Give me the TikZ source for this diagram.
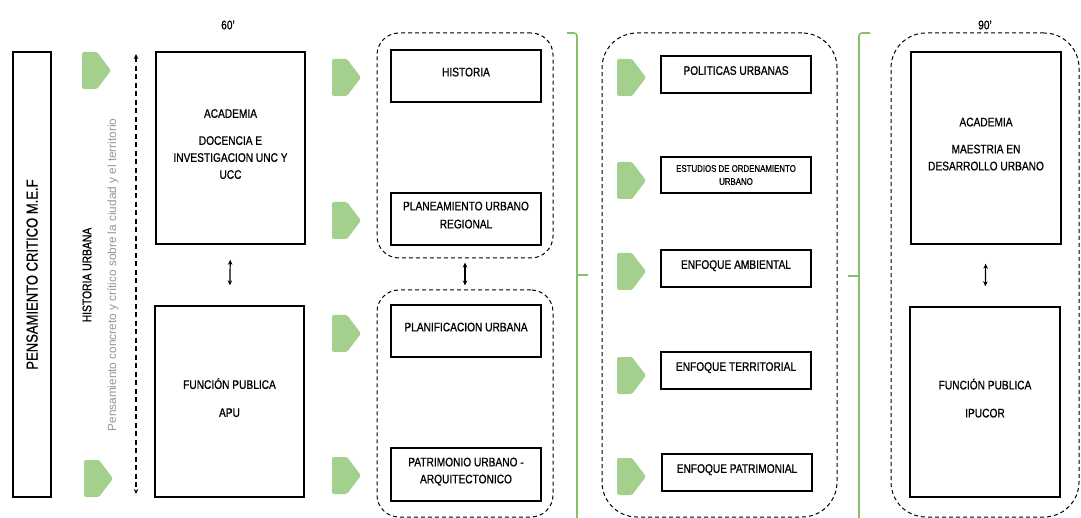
\documentclass[tikz,border=0pt]{standalone}
\usepackage{fontspec}
\setmainfont{Liberation Sans}[FakeStretch=0.82, FakeBold=0.8]
\newfontfamily\plainfont{Liberation Sans}
\usetikzlibrary{arrows.meta,calc}
\definecolor{tabgreen}{RGB}{163,208,140}
\definecolor{brgreen}{RGB}{135,192,105}
\definecolor{greytxt}{RGB}{150,150,150}
\newcommand\greentab[2]{\fill[tabgreen, rounded corners=1.5pt] (#1,#2) -- ++(15,0) -- ++(14,18.5) -- ++(-14,18.5) -- ++(-15,0) -- cycle;}
\begin{document}
\begin{tikzpicture}[x=1pt,y=-1pt,
  sbox/.style={draw=black, line width=1.5pt, align=center, inner sep=2pt,
    font=\fontsize{12.4}{17}\selectfont, text depth=8pt},
  cont/.style={draw=black, line width=1pt, dash pattern=on 4pt off 3pt},
  dbl/.style={line width=1.2pt, {Stealth[length=5pt,width=4.5pt]}-{Stealth[length=5pt,width=4.5pt]}},
  dasharrow/.style={line width=1.1pt, dash pattern=on 5pt off 3.5pt, {Stealth[length=5pt,width=4.5pt]}-{Stealth[length=5pt,width=4.5pt]}},
  bracket/.style={draw=brgreen, line width=1.6pt, rounded corners=3pt},
  lbl/.style={font=\fontsize{12.4}{14}\selectfont}
]
\useasboundingbox[fill=white] (0,0) rectangle (1081,518);

% ---------- column 1 ----------
\node[sbox, rotate=90, minimum width=445, minimum height=38, text depth=0pt,
  font=\fontsize{15.9}{18}\selectfont] (mef) at (32,274.5) {PENSAMIENTO CRITICO M.E.F};
\node[rotate=90, font=\fontsize{12.6}{14}\selectfont] (histurb) at (87,275) {HISTORIA URBANA};
\node[rotate=90, text=greytxt, font=\plainfont\fontsize{11.8}{13}\selectfont] (pens) at (113,275)
  {Pensamiento concreto y crítico sobre la ciudad y el territorio};
\coordinate (dtop) at (136,54);
\coordinate (dbot) at (136,494);
\draw[dasharrow] (dtop) -- (dbot);
\greentab{82}{52}
\greentab{84}{460}

\node[lbl] (t60) at (228,25) {60'};
\node[sbox, minimum width=149, minimum height=192] (acad1) at (230.5,148)
  {ACADEMIA\\[10pt]DOCENCIA E\\INVESTIGACION UNC Y\\UCC};
\node[sbox, minimum width=149, minimum height=191] (fun1) at (229.5,401.5)
  {FUNCIÓN PUBLICA\\[11pt]APU};
\draw[dbl, shorten <=15pt, shorten >=20pt] (acad1.south) -- (fun1.north);

% ---------- column 2 ----------
\greentab{332}{59}
\greentab{332}{202}
\greentab{332}{315}
\greentab{332}{457}
\node[cont, rounded corners=22pt, minimum width=176, minimum height=225] (c1) at (465,145.5) {};
\node[cont, rounded corners=22pt, minimum width=176, minimum height=227] (c2) at (465,403.5) {};
\node[sbox, minimum width=150, minimum height=52] (hist) at (466,76) {HISTORIA};
\node[sbox, minimum width=150, minimum height=52, font=\fontsize{12.4}{18}\selectfont] (plan) at (466,219)
  {PLANEAMIENTO URBANO\\REGIONAL};
\node[sbox, minimum width=150, minimum height=52] (planif) at (466,331) {PLANIFICACION URBANA};
\node[sbox, minimum width=150, minimum height=53] (patr) at (466,474.5)
  {PATRIMONIO URBANO -\\ARQUITECTONICO};
\draw[dbl, shorten <=4pt, shorten >=4pt] (c1.south) -- (c2.north);

\draw[bracket] (567,33) -- (577,33) -- (577,522);
\draw[bracket, rounded corners=0pt] (577,275) -- (588,275);

% ---------- column 3 ----------
\node[cont, rounded corners=35pt, minimum width=235, minimum height=484] (c3) at (719.5,275) {};
\greentab{617}{59}
\greentab{617}{162}
\greentab{617}{253}
\greentab{617}{357}
\greentab{617}{458}
\node[sbox, minimum width=150, minimum height=37] (pol) at (736,74.5) {POLITICAS URBANAS};
\node[sbox, minimum width=150, minimum height=36, text depth=0pt,
  font=\fontsize{9.6}{13}\selectfont] (est) at (736,175) {ESTUDIOS DE ORDENAMIENTO\\URBANO};
\node[sbox, minimum width=150, minimum height=37] (amb) at (736,268.5) {ENFOQUE AMBIENTAL};
\node[sbox, minimum width=150, minimum height=37] (terr) at (736,370.5) {ENFOQUE TERRITORIAL};
\node[sbox, minimum width=150, minimum height=37] (patrim) at (737,472.5) {ENFOQUE PATRIMONIAL};

\draw[bracket] (870,33) -- (859,33) -- (859,522);
\draw[bracket, rounded corners=0pt] (859,276) -- (848,276);

% ---------- column 4 ----------
\node[cont, rounded corners=35pt, minimum width=188, minimum height=484] (c4) at (985,275) {};
\node[lbl] (t90) at (985,25) {90'};
\node[sbox, minimum width=150, minimum height=192] (acad2) at (986,148)
  {ACADEMIA\\[10pt]MAESTRIA EN\\DESARROLLO URBANO};
\node[sbox, minimum width=150, minimum height=190] (fun2) at (985,402)
  {FUNCIÓN PUBLICA\\[11pt]IPUCOR};
\draw[dbl, shorten <=19pt, shorten >=20pt] (acad2.south) -- (fun2.north);
\end{tikzpicture}
\end{document}
